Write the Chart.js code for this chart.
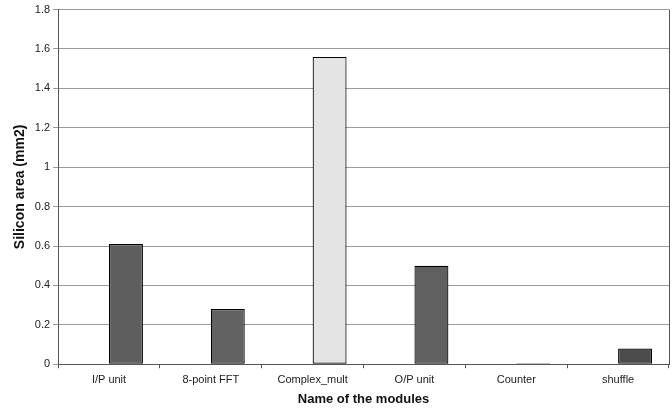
<!DOCTYPE html>
<html>
<head>
<meta charset="utf-8">
<script src="https://cdn.jsdelivr.net/npm/chart.js@4/dist/chart.umd.min.js"></script>
<style>
  html, body { margin: 0; padding: 0; background: #ffffff; }
  #wrap { width: 672px; height: 410px; position: relative; }
</style>
</head>
<body>
<div id="wrap"><canvas id="moduleAreaChart"></canvas></div>
<script>
var moduleNames = ["I/P unit", "8-point FFT", "Complex_mult", "O/P unit", "Counter", "shuffle"];
var siliconArea = [0.61, 0.28, 1.56, 0.50, 0.005, 0.08];
var emptySeries = [null, null, null, null, null, null];
var barColors = ["#5e5e5e", "#626262", "#e4e4e4", "#606060", "#555555", "#4c4c4c"];
var yTicks = [0, 0.2, 0.4, 0.6, 0.8, 1, 1.2, 1.4, 1.6, 1.8];

// Excel-style outer border of the plot area (right edge)
var plotBorder = {
    id: "plotBorder",
    afterDraw: function (chart) {
        var a = chart.chartArea;
        var ctx = chart.ctx;
        ctx.save();
        ctx.strokeStyle = "#555555";
        ctx.lineWidth = 1;
        ctx.beginPath();
        ctx.moveTo(Math.round(a.right) + 0.5, a.top);
        ctx.lineTo(Math.round(a.right) + 0.5, a.bottom);
        ctx.stroke();
        ctx.restore();
    }
};

document.addEventListener('DOMContentLoaded', function () {
    var canvas = document.getElementById("moduleAreaChart");

    new Chart(canvas, {
        type: "bar",
        data: {
            labels: moduleNames,
            datasets: [
                {
                    label: "spacer",
                    data: emptySeries,
                    backgroundColor: "#ffffff"
                },
                {
                    label: "Silicon area",
                    data: siliconArea,
                    backgroundColor: barColors,
                    borderColor: "#000000",
                    borderWidth: 1.2,
                    borderSkipped: false
                }
            ]
        },
        options: {
            responsive: true,
            maintainAspectRatio: false,
            animation: false,
            categoryPercentage: 2 / 3,
            barPercentage: 1,
            layout: {
                padding: {left: 8, right: 3, top: 4, bottom: 3}
            },
            scales: {
                x: {
                    offset: true,
                    grid: {
                        display: true,
                        drawOnChartArea: false,
                        offset: true,
                        tickLength: 4,
                        color: "#555555"
                    },
                    border: {display: true, color: "#555555"},
                    ticks: {
                        color: "#222222",
                        font: {family: "Liberation Sans", size: 11},
                        maxRotation: 0,
                        padding: 5
                    },
                    title: {
                        display: true,
                        text: "Name of the modules",
                        color: "#111111",
                        font: {family: "Liberation Sans", size: 13, weight: "bold"},
                        padding: {top: 0, bottom: 0}
                    }
                },
                y: {
                    min: 0,
                    max: 1.8,
                    afterBuildTicks: function (axis) {
                        axis.ticks = yTicks.map(function (v) { return {value: v}; });
                    },
                    grid: {
                        color: "#9a9a9a",
                        tickLength: 5
                    },
                    border: {display: true, color: "#555555"},
                    ticks: {
                        color: "#222222",
                        font: {family: "Liberation Sans", size: 11},
                        padding: 3,
                        callback: function (v) { return String(Number(Number(v).toFixed(1))); }
                    },
                    title: {
                        display: true,
                        text: "Silicon area (mm2)",
                        color: "#111111",
                        font: {family: "Liberation Sans", size: 14, weight: "bold"},
                        padding: {top: 4, bottom: 3}
                    }
                }
            },
            plugins: {
                legend: {display: false},
                tooltip: {enabled: false}
            }
        },
        plugins: [plotBorder]
    });
});
</script>
</body>
</html>
